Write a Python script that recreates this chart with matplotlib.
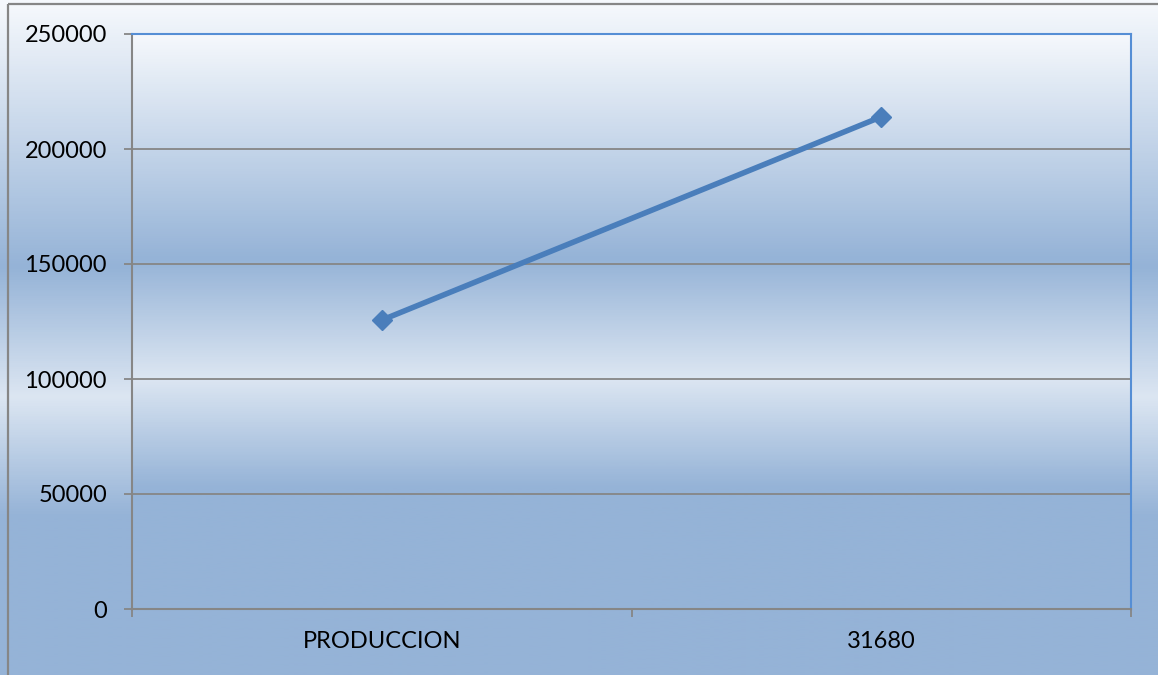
import numpy as np
import matplotlib
matplotlib.use("Agg")
import matplotlib.pyplot as plt
from matplotlib.colors import LinearSegmentedColormap

categories = ["PRODUCCION", "31680"]
values = [125600, 214000]
y_ticks = [0, 50000, 100000, 150000, 200000, 250000]

plt.rcParams['font.family'] = ['Lato', 'DejaVu Sans']

W, H = 1158, 675
fig = plt.figure(figsize=(W / 100, H / 100), dpi=100)

white = "#F5F8FC"
dark = "#95B3D7"
light = "#DCE6F2"

# outer chart area gradient (top -> bottom)
top_frac = 4 / H
outer_cmap = LinearSegmentedColormap.from_list(
    "outer", [(0, white), (top_frac, white), (267 / H, dark), (397 / H, light), (517 / H, dark), (1, dark)])
bg = fig.add_axes([0, 0, 1, 1], zorder=-10)
bg.imshow(np.linspace(0, 1, 600).reshape(-1, 1), cmap=outer_cmap, aspect="auto",
          extent=[0, 1, 0, 1], origin="upper")
bg.set_xlim(0, 1)
bg.set_ylim(0, 1)
bg.axis("off")
# outer border (left and top)
bx, by = 8 / W, 1 - 4 / H
bg.plot([bx, bx], [0, by], color="#868686", lw=1.6, solid_capstyle="butt")
bg.plot([bx, 1], [by, by], color="#868686", lw=1.6, solid_capstyle="butt")

# plot area
ax = fig.add_axes([132 / W, 1 - 609 / H, (1131 - 132) / W, (609 - 34) / H])
plot_cmap = LinearSegmentedColormap.from_list(
    "plot", [(0, white), (0.39, dark), (0.60, light), (0.79, dark), (1, dark)])
ax.imshow(np.linspace(0, 1, 600).reshape(-1, 1), cmap=plot_cmap, aspect="auto",
          extent=[-0.5, 1.5, 0, 250000], origin="upper", zorder=0)

x = np.arange(len(categories))
ax.plot(x, values, color="#4A7EBB", lw=4, marker="D", markersize=10,
        solid_capstyle="round", zorder=5, clip_on=False)

ax.set_xlim(-0.5, 1.5)
ax.set_ylim(0, 250000)
ax.set_yticks(y_ticks)
ax.set_yticklabels([str(v) for v in y_ticks])
ax.set_xticks([-0.5, 0.5, 1.5], minor=False)
ax.set_xticklabels([])
ax.set_xticks(x, minor=True)
ax.set_xticklabels(categories, minor=True)
ax.tick_params(axis="x", which="minor", length=0, pad=16, labelsize=17)
ax.tick_params(axis="x", which="major", length=6, width=1.3, color="#868686")
ax.tick_params(axis="y", length=6, width=1.3, color="#868686", pad=12, labelsize=17)

ax.grid(axis="y", color="#868686", lw=1.3, zorder=1)
for l in ax.get_ygridlines():
    l.set_zorder(1)

ax.spines["left"].set_color("#868686")
ax.spines["bottom"].set_color("#868686")
ax.spines["left"].set_linewidth(1.5)
ax.spines["bottom"].set_linewidth(1.5)
ax.spines["top"].set_color("#558ED5")
ax.spines["right"].set_color("#558ED5")
ax.spines["top"].set_linewidth(1.5)
ax.spines["right"].set_linewidth(1.5)

fig.savefig("out.png", dpi=100)
